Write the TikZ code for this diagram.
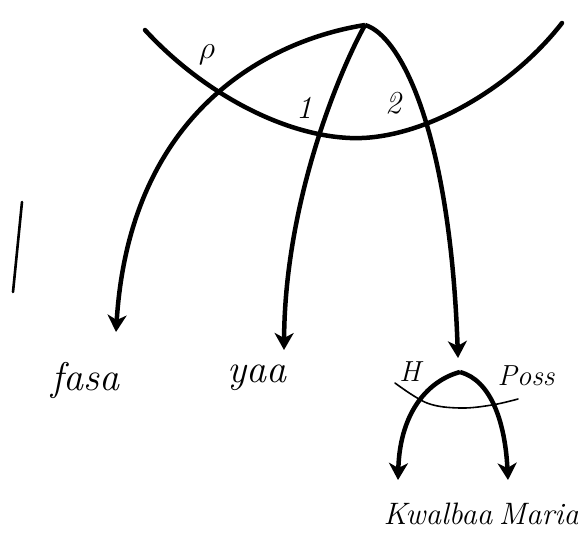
\RequirePackage{fix-cm}
\documentclass[tikz,border=0pt]{standalone}
\usepackage{tikz}
\usetikzlibrary{arrows.meta}

\begin{document}
\begin{tikzpicture}[x=1pt,y=-1pt,every node/.style={font=\fontsize{40}{44}\selectfont\itshape,inner sep=0pt},
  arcline/.style={line width=4.5pt,line cap=round},
  thinarc/.style={line width=1.6pt,line cap=round},
  dep/.style={line width=4.5pt,-{Stealth[length=17pt,width=19pt,inset=5pt]}},
  wordb/.style={font=\fontsize{31}{34}\selectfont\itshape},
  lbl/.style={font=\fontsize{32}{36}\selectfont\itshape},
  smalllbl/.style={font=\fontsize{29}{32}\selectfont\itshape}]
\useasboundingbox (0,0) rectangle (578,542);
\coordinate (root) at (365,25);
\coordinate (gen) at (460,372);
\node (fasa) at (85,380) {fasa};
\node (yaa) at (257,378) {yaa};
\node[wordb] (kwalbaa) at (438,514) {Kwalbaa};
\node[wordb] (maria) at (539,514) {Maria};
\coordinate (fasa-in) at (116,332);
\coordinate (yaa-in) at (284,350);
\coordinate (gen-in) at (458,358);
\coordinate (kwalbaa-in) at (398,480);
\coordinate (maria-in) at (508,480);
\draw[arcline] (145,30) .. controls (200,90) and (280,135) .. (350,138) .. controls (420,141) and (510,90) .. (562,23);
\draw[dep] (root) .. controls (270,40) and (130,110) .. (fasa-in);
\draw[dep] (root) .. controls (340,70) and (285,200) .. (yaa-in);
\draw[dep] (root) .. controls (400,35) and (450,130) .. (gen-in);
\draw[thinarc] plot[smooth,tension=0.6] coordinates {(395,383) (427,403) (460,408) (492,405) (518,399)};
\draw[dep] (gen) .. controls (430,380) and (400,410) .. (kwalbaa-in);
\draw[dep] (gen) .. controls (490,380) and (505,420) .. (maria-in);
\node[lbl] (rho) at (207,55) {$\rho$};
\node[lbl] (one) at (304,108) {1};
\node[lbl] (two) at (393,103) {2};
\node[smalllbl] (head) at (410,372) {H};
\node[smalllbl] (poss) at (526,376) {Poss};
\draw[line width=2.6pt,line cap=round] (22,202) -- (13,292);
\end{tikzpicture}
\end{document}
